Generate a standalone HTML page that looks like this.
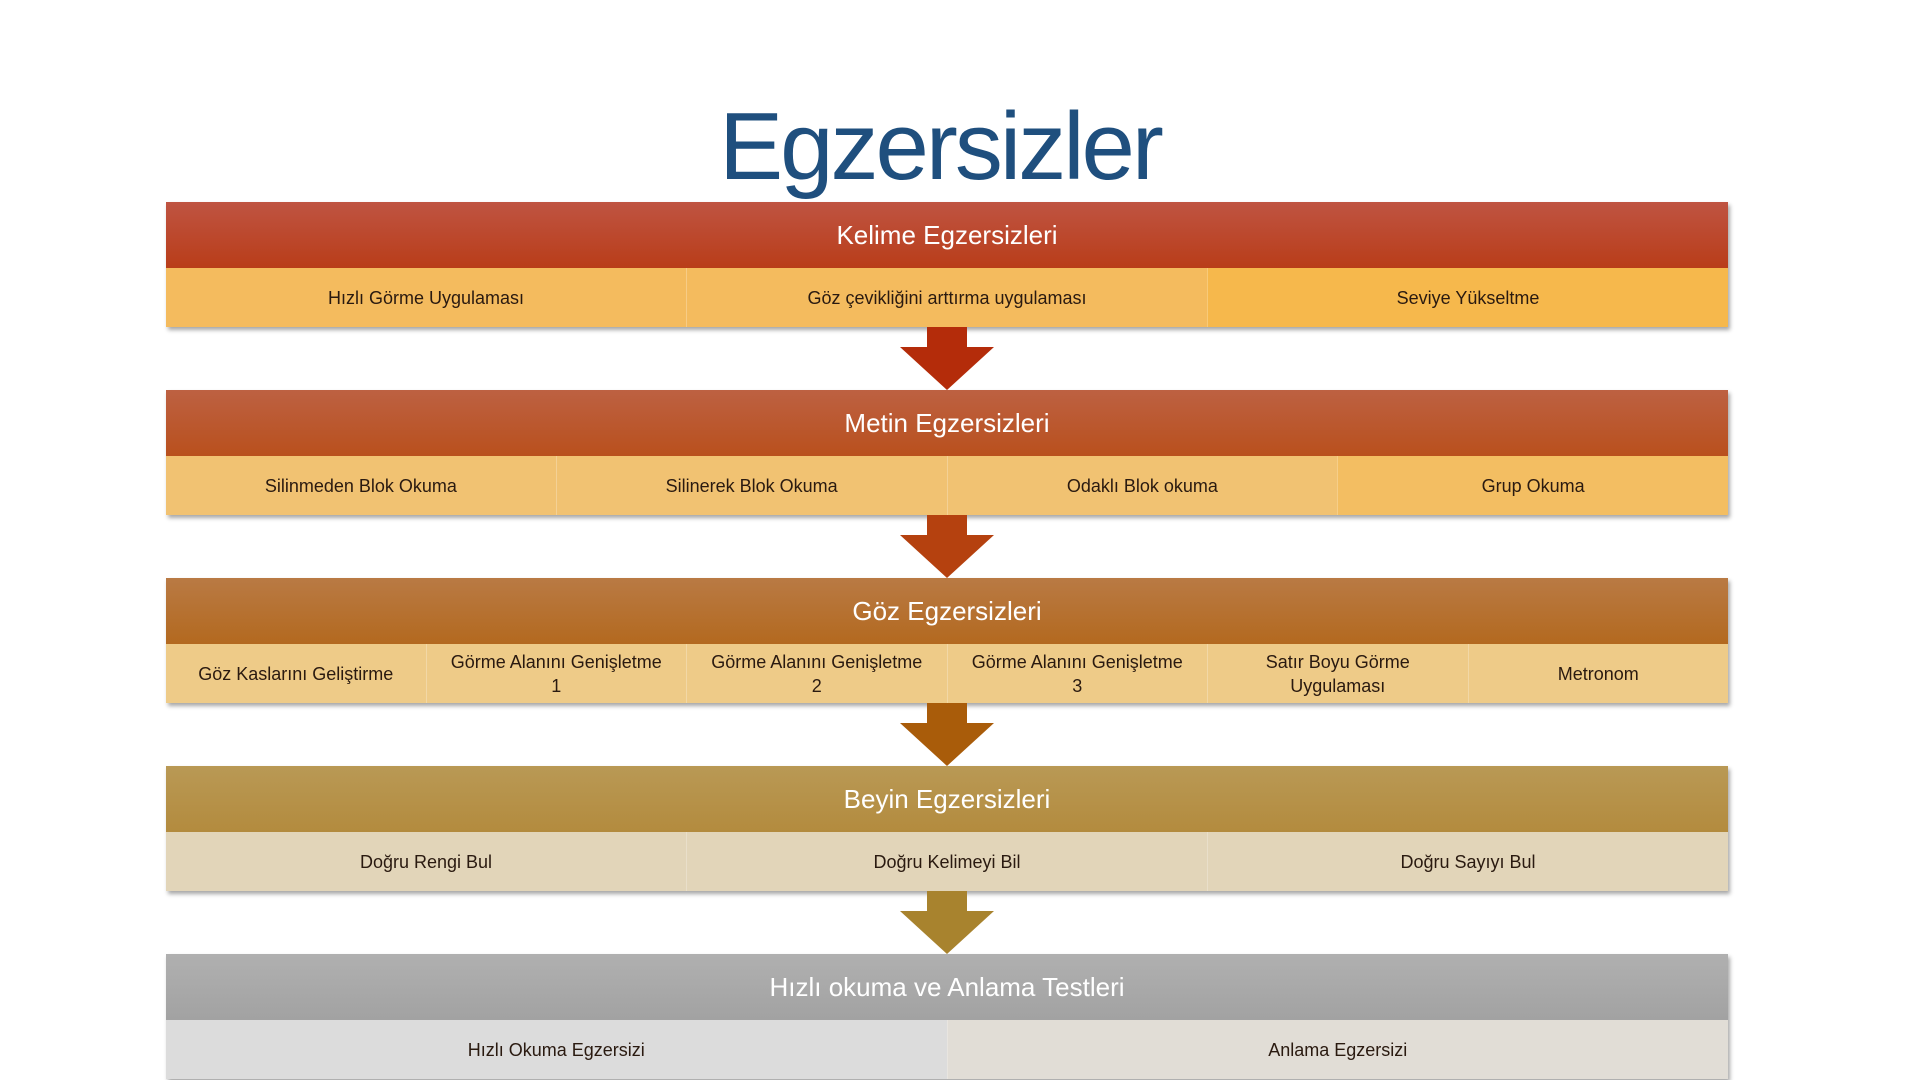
<!DOCTYPE html>
<html><head><meta charset="utf-8"><style>
body{margin:0;width:1920px;height:1080px;background:#fff;position:relative;overflow:hidden;font-family:"Liberation Sans",sans-serif}
.t{position:absolute;left:0;width:1880px;text-align:center;top:92px;font-size:96px;color:#1f4f7e;letter-spacing:-3px}
.b{position:absolute;left:166px;width:1562px;box-shadow:2px 3px 4px rgba(0,0,0,.35)}
.h{height:66px;line-height:66px;text-align:center;color:#fff;font-size:26px}
.s{display:flex;height:59px}
.s div{flex:1;display:flex;align-items:center;justify-content:center;text-align:center;font-size:18px;color:#2a1a10;line-height:24px;border-left:1px solid rgba(255,255,255,.25)}
.s div:first-child{border-left:none}
.a{position:absolute;left:900px;width:94px}
</style></head><body>
<div class="t">Egzersizler</div>

<div class="b" style="top:202px"><div class="h" style="background:linear-gradient(#bf5442,#b93d19)">Kelime Egzersizleri</div>
<div class="s" style="background:#f4bb5e"><div>Hızlı Görme Uygulaması</div><div>Göz çevikliğini arttırma uygulaması</div><div style="background:#f6b84c">Seviye Yükseltme</div></div></div>

<div class="b" style="top:390px"><div class="h" style="background:linear-gradient(#bd6142,#b9501d)">Metin Egzersizleri</div>
<div class="s" style="background:#f1c272"><div>Silinmeden Blok Okuma</div><div>Silinerek Blok Okuma</div><div>Odaklı Blok okuma</div><div style="background:#f3be62">Grup Okuma</div></div></div>

<div class="b" style="top:578px"><div class="h" style="background:linear-gradient(#b97a44,#b3691f)">Göz Egzersizleri</div>
<div class="s" style="background:#eecb88"><div>Göz Kaslarını Geliştirme</div><div>Görme Alanını Genişletme<br>1</div><div>Görme Alanını Genişletme<br>2</div><div>Görme Alanını Genişletme<br>3</div><div>Satır Boyu Görme<br>Uygulaması</div><div>Metronom</div></div></div>

<div class="b" style="top:766px"><div class="h" style="background:linear-gradient(#b99955,#b38b3e)">Beyin Egzersizleri</div>
<div class="s" style="background:#e2d5b9"><div>Doğru Rengi Bul</div><div>Doğru Kelimeyi Bil</div><div>Doğru Sayıyı Bul</div></div></div>

<div class="b" style="top:954px"><div class="h" style="background:linear-gradient(#b0b0b0,#a2a2a2)">Hızlı okuma ve Anlama Testleri</div>
<div class="s" style="background:#dcdcdc"><div>Hızlı Okuma Egzersizi</div><div style="background:#e1ddd6">Anlama Egzersizi</div></div></div>

<svg class="a" style="top:327px" height="63" viewBox="0 0 94 63"><polygon points="27,0 67,0 67,20 94,20 47,63 0,20 27,20" fill="#b42c0a"/></svg>
<svg class="a" style="top:515px" height="63" viewBox="0 0 94 63"><polygon points="27,0 67,0 67,20 94,20 47,63 0,20 27,20" fill="#b5410f"/></svg>
<svg class="a" style="top:703px" height="63" viewBox="0 0 94 63"><polygon points="27,0 67,0 67,20 94,20 47,63 0,20 27,20" fill="#a95c0a"/></svg>
<svg class="a" style="top:891px" height="63" viewBox="0 0 94 63"><polygon points="27,0 67,0 67,20 94,20 47,63 0,20 27,20" fill="#a8832e"/></svg>
</body></html>
